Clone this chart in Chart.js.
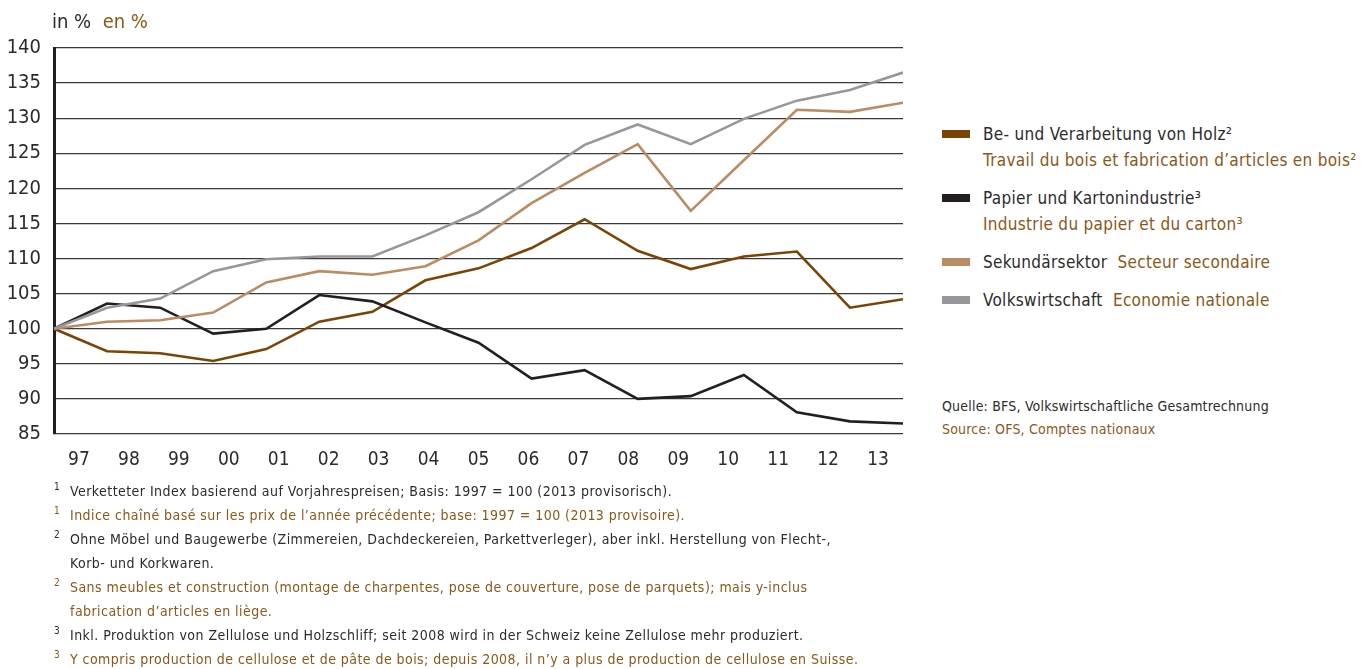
<!DOCTYPE html>
<html lang="de">
<head>
<meta charset="UTF-8">
<title>Wertschöpfung Holz- und Papierindustrie</title>
<script src="https://cdn.jsdelivr.net/npm/chart.js"></script>
<style>
  body { margin: 0; background: #fff; width: 1368px; height: 669px; overflow: hidden;
         font-family: "Liberation Sans Narrow", "DejaVu Sans Condensed", sans-serif; color: #2b2b2b; }
  .fr { color: #8c5718; }
  #chart { position: absolute; left: 0; top: 0; }
  .unit { position: absolute; left: 52px; top: 9px; font-size: 20px; }
  .legend { position: absolute; left: 942px; top: 121px; font-size: 17px; letter-spacing: 0.3px; }
  .legend .row { position: relative; padding-left: 41px; height: 26px; line-height: 26px; }
  .legend .sw { position: absolute; left: 0; top: 9px; width: 28px; height: 8px; }
  .legend .gap { height: 12px; }
  .source { position: absolute; left: 942px; top: 395px; font-size: 14px; line-height: 23px; letter-spacing: 0.2px; }
  .notes { position: absolute; left: 54px; top: 479px; font-size: 14px; line-height: 24px; letter-spacing: 0.45px; }
  .notes div { position: relative; padding-left: 16px; }
  .notes sup { position: absolute; left: 0; top: -4px; font-size: 10px; }
</style>
</head>
<body>
<canvas id="chart" width="920" height="480"></canvas>
<div class="unit">in %&nbsp; <span class="fr">en %</span></div>

<div class="legend">
  <div class="row"><span class="sw" style="background:#7b4404"></span>Be- und Verarbeitung von Holz²</div>
  <div class="row fr">Travail du bois et fabrication d’articles en bois²</div>
  <div class="gap"></div>
  <div class="row"><span class="sw" style="background:#231f20"></span>Papier und Kartonindustrie³</div>
  <div class="row fr">Industrie du papier et du carton³</div>
  <div class="gap"></div>
  <div class="row"><span class="sw" style="background:#b98c63"></span>Sekundärsektor&nbsp; <span class="fr">Secteur secondaire</span></div>
  <div class="gap"></div>
  <div class="row"><span class="sw" style="background:#97979b"></span>Volkswirtschaft&nbsp; <span class="fr">Economie nationale</span></div>
</div>

<div class="source">
  <div>Quelle: BFS, Volkswirtschaftliche Gesamtrechnung</div>
  <div class="fr">Source: OFS, Comptes nationaux</div>
</div>

<div class="notes">
  <div><sup>1</sup>Verketteter Index basierend auf Vorjahrespreisen; Basis: 1997 = 100 (2013 provisorisch).</div>
  <div class="fr"><sup>1</sup>Indice chaîné basé sur les prix de l’année précédente; base: 1997 = 100 (2013 provisoire).</div>
  <div><sup>2</sup>Ohne Möbel und Baugewerbe (Zimmereien, Dachdeckereien, Parkettverleger), aber inkl. Herstellung von Flecht-,<br>Korb- und Korkwaren.</div>
  <div class="fr"><sup>2</sup>Sans meubles et construction (montage de charpentes, pose de couverture, pose de parquets); mais y-inclus<br>fabrication d’articles en liège.</div>
  <div><sup>3</sup>Inkl. Produktion von Zellulose und Holzschliff; seit 2008 wird in der Schweiz keine Zellulose mehr produziert.</div>
  <div class="fr"><sup>3</sup>Y compris production de cellulose et de pâte de bois; depuis 2008, il n’y a plus de production de cellulose en Suisse.</div>
</div>

<script>
// Index 1997 = 100
const years = ['97', '98', '99', '00', '01', '02', '03', '04', '05', '06', '07', '08', '09', '10', '11', '12', '13'];
const holz = [100, 96.8, 96.5, 95.4, 97.1, 101.0, 102.4, 106.9, 108.6, 111.5, 115.6, 111.1, 108.5, 110.3, 111.0, 103.0, 104.2];
const papier = [100, 103.6, 103.0, 99.3, 100.0, 104.8, 103.9, 100.9, 98.0, 92.9, 94.1, 90.0, 90.4, 93.4, 88.1, 86.8, 86.5];
const sekundaer = [100, 101.0, 101.2, 102.3, 106.6, 108.2, 107.7, 108.9, 112.6, 117.9, 122.2, 126.3, 116.8, 124.0, 131.2, 130.9, 132.2];
const volkswirtschaft = [100, 103.0, 104.3, 108.2, 109.9, 110.3, 110.3, 113.3, 116.6, 121.3, 126.2, 129.1, 126.3, 129.9, 132.5, 134.0, 136.5];

const FONT = '"Liberation Sans Narrow", "DejaVu Sans Condensed", sans-serif';
const toPoints = arr => arr.map((v, i) => ({ x: i, y: v }));

function series(data, color) {
  return {
    data: toPoints(data),
    borderColor: color,
    borderWidth: 2.6,
    pointRadius: 0,
    tension: 0,
    fill: false,
    xAxisID: 'x',
    yAxisID: 'y'
  };
}

new Chart(document.getElementById('chart'), {
  type: 'line',
  data: {
    datasets: [
      series(volkswirtschaft, '#97979b'),
      series(sekundaer, '#b98c63'),
      series(papier, '#231f20'),
      series(holz, '#7b4404')
    ]
  },
  options: {
    responsive: false,
    animation: false,
    layout: { padding: { top: 48, right: 17, left: 0, bottom: 0 } },
    plugins: { legend: { display: false }, tooltip: { enabled: false } },
    scales: {
      x: {
        type: 'linear',
        min: 0,
        max: years.length - 1,
        display: false
      },
      years: {
        type: 'category',
        position: 'bottom',
        labels: years,
        offset: true,
        grid: { display: false, drawTicks: false },
        border: { display: false },
        ticks: { color: '#2b2b2b', padding: 15, font: { family: FONT, size: 19 } },
        afterFit: s => { s.height = 46; }
      },
      y: {
        min: 85,
        max: 140,
        ticks: { stepSize: 5, color: '#2b2b2b', padding: 13, font: { family: FONT, size: 20 } },
        grid: { color: '#3a3a3a', lineWidth: 1.2, drawTicks: false },
        border: { display: true, color: '#231f20', width: 3 },
        afterFit: s => { s.width = 54; }
      }
    }
  }
});
</script>
</body>
</html>
